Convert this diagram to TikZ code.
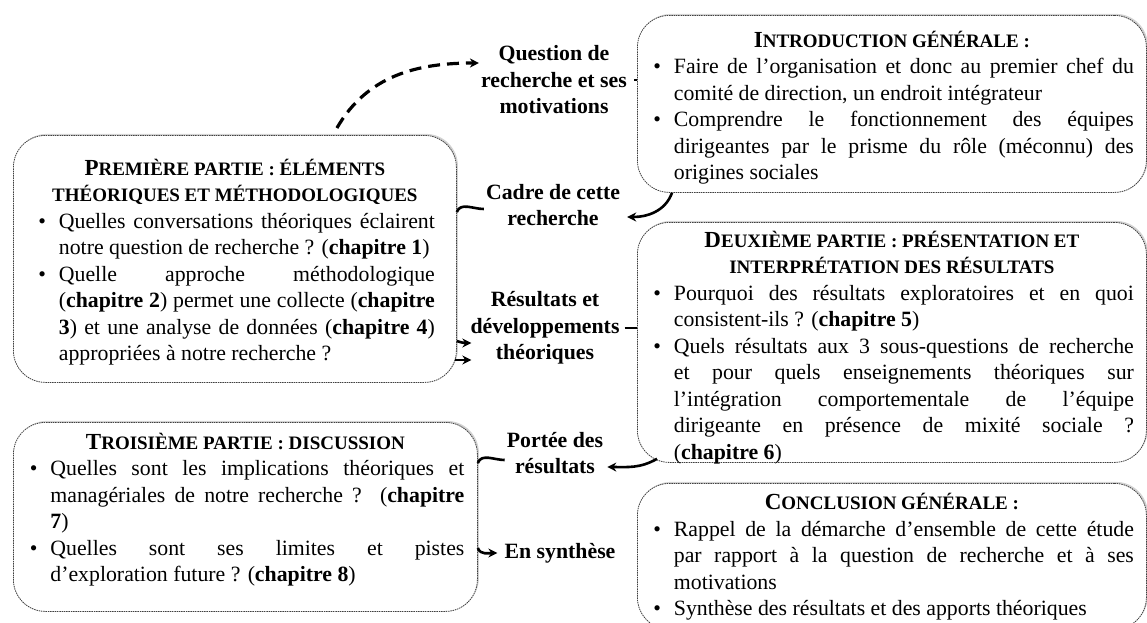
\documentclass[tikz,border=0pt]{standalone}
\usepackage{fontspec}
\setmainfont{Liberation Serif}
\usetikzlibrary{positioning, calc, shadows, arrows.meta}
\newcommand{\corps}{\fontsize{21.8pt}{26.5pt}\selectfont}
\newcommand{\titre}[2]{{\fontsize{23pt}{26.5pt}\selectfont #1}{\fontsize{19pt}{26.5pt}\selectfont #2}}
\newcommand{\pc}[1]{{\fontsize{19pt}{26.5pt}\selectfont #1}}
\newlength{\retrait}
\setlength{\retrait}{24pt}
\newcommand{\puce}{\par\leftskip=\retrait\noindent\llap{\textbullet\hspace{13pt}}}
\newcommand{\contenu}[3]{\parbox[c][#2][t]{#1}{\tolerance=10000\hbadness=10000\hyphenpenalty=10000\exhyphenpenalty=10000\strut#3}}
\tikzset{
	partie/.style={draw=black!75, line width=0.8pt, dash pattern=on 1.5pt off 0.8pt, rounded corners=32pt, fill=white, anchor=north west, font=\corps, drop shadow={shadow xshift=1.5pt, shadow yshift=1.5pt, opacity=0.35}},
	etape/.style={font=\corps\bfseries, align=center, inner sep=2pt},
}

\begin{document}
\begin{tikzpicture}[x=1pt, y=-1pt]
	\useasboundingbox (0,0) rectangle (1147,622);
	
	% parties
	\node (intro) [partie, inner xsep=12.5pt, inner ysep=13.5pt] at (637,15) {\contenu{484pt}{150pt}{%
		{\centering\bfseries\titre{I}{NTRODUCTION GÉNÉRALE :}\par}
		\puce Faire de l’organisation et donc au premier chef du\linebreak comité de direction, un endroit intégrateur
		\puce Comprendre le fonctionnement des équipes\linebreak dirigeantes par le prisme du rôle (méconnu) des\linebreak origines sociales}};
	
	\node (prem) [partie, inner xsep=21.5pt, inner ysep=21.5pt] at (13,135) {\contenu{400pt}{204pt}{%
		{\centering\bfseries\titre{P}{REMIÈRE PARTIE : ÉLÉMENTS}\\ \pc{THÉORIQUES ET MÉTHODOLOGIQUES}\par}
		\puce Quelles conversations théoriques éclairent\linebreak notre question de recherche ? (\textbf{chapitre 1})
		\puce Quelle approche méthodologique\linebreak (\textbf{chapitre 2}) permet une collecte (\textbf{chapitre\linebreak 3}) et une analyse de données (\textbf{chapitre 4})\linebreak appropriées à notre recherche ?}};
	
	\node (deux) [partie, inner xsep=12.5pt, inner ysep=6.5pt] at (637,222) {\contenu{484pt}{227pt}{%
		{\centering\bfseries\titre{D}{EUXIÈME PARTIE : PRÉSENTATION ET}\\ \pc{INTERPRÉTATION DES RÉSULTATS}\par}
		\puce Pourquoi des résultats exploratoires et en quoi\linebreak consistent-ils ? (\textbf{chapitre 5})
		\puce Quels résultats aux 3 sous-questions de recherche\linebreak et pour quels enseignements théoriques sur\linebreak l’intégration comportementale de l’équipe\linebreak dirigeante en présence de mixité sociale ?\linebreak (\textbf{chapitre 6})}};
	
	\node (trois) [partie, inner xsep=13pt, inner ysep=8.5pt] at (13,422) {\contenu{438pt}{172pt}{%
		{\centering\bfseries\titre{T}{ROISIÈME PARTIE : DISCUSSION}\par}
		\puce Quelles sont les implications théoriques et\linebreak managériales de notre recherche ? (\textbf{chapitre\linebreak 7})
		\puce Quelles sont ses limites et pistes\linebreak d’exploration future ? (\textbf{chapitre 8})}};
	
	\node (concl) [partie, inner xsep=12.5pt, inner ysep=8pt] at (637,483) {\contenu{484pt}{130pt}{%
		{\centering\bfseries\titre{C}{ONCLUSION GÉNÉRALE :}\par}
		\puce Rappel de la démarche d’ensemble de cette étude\linebreak par rapport à la question de recherche et à ses\linebreak motivations
		\puce Synthèse des résultats et des apports théoriques}};
	
	% etapes
	\node (question) [etape] at (554,80) {Question de\\recherche et ses\\motivations};
	\node (cadre) [etape] at (553,205) {Cadre de cette\\recherche};
	\node (resultats) [etape] at (545,328) {Résultats et\\développements\\théoriques};
	\node (portee) [etape] at (555,453) {Portée des\\résultats};
	\node (synthese) [etape] at (560,553) {En synthèse};
	
	\begin{scope}[line width=2.6pt, black, >={Stealth[length=9pt, width=9pt]}]
		\draw[->, line width=3.2pt, dash pattern=on 12pt off 7pt] ([xshift=102pt, yshift=7pt]prem.north) to[out=60, in=180] ([yshift=17pt]question.west);
		\draw[shorten <=5pt] (question.east) -- (intro.west |- question.east);
		
		\draw[->] ([xshift=35pt]intro.south west) to[out=-110, in=0] ([xshift=5pt, yshift=-12pt]cadre.east);
		\draw ($(prem.east |- cadre.west)+(0,7)$) to[out=70, in=180] ($(cadre.west)+(0,4)$);
		
		\draw[->] ($(prem.east |- resultats.west)+(0,13)$) to[out=-20, in=180] ($(resultats.west)+(3,15)$);
		\draw[->] ($(prem.east |- resultats.west)+(-2,32)$) -- ($(resultats.west)+(3,32)$);
		\draw[shorten <=3pt] (resultats.east) -- (deux.west |- resultats.east);
		
		\draw[->] ([xshift=20pt, yshift=4pt]deux.south west) to[out=-150, in=0] ([xshift=2pt, yshift=-14pt]portee.east);
		\draw ($(trois.east |- portee.west)+(0,10)$) to[out=70, in=180] ($(portee.west)+(0,7)$);
		
		\draw[->] ($(trois.east |- synthese.west)+(0,-5)$) to[out=-70, in=180] ([xshift=-5pt]synthese.west);
	\end{scope}
	
\end{tikzpicture}
\end{document}
